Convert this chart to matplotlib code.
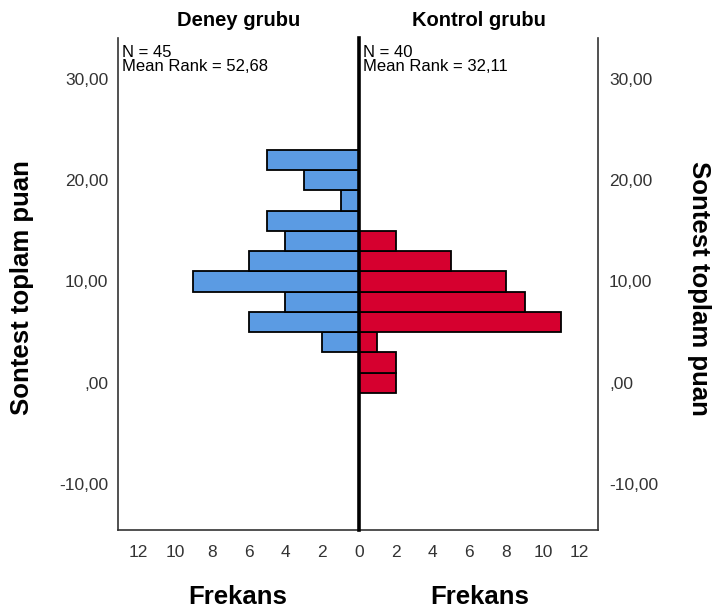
import matplotlib.pyplot as plt
import numpy as np

# histogram bins: centre of each 2-point bin (edges at odd numbers)
bin_centers = [0, 2, 4, 6, 8, 10, 12, 14, 16, 18, 20, 22]
deney_counts = [0, 0, 2, 6, 4, 9, 6, 4, 5, 1, 3, 5]
kontrol_counts = [2, 2, 1, 11, 9, 8, 5, 2, 0, 0, 0, 0]
bin_width = 2

group_titles = ["Deney grubu", "Kontrol grubu"]
group_notes = ["N = 45\nMean Rank = 52,68", "N = 40\nMean Rank = 32,11"]
y_ticks = [-10, 0, 10, 20, 30]
y_tick_labels = ["-10,00", ",00", "10,00", "20,00", "30,00"]
left_x_ticks = [0, 2, 4, 6, 8, 10, 12]
right_x_ticks = [2, 4, 6, 8, 10, 12]
y_label = "Sontest toplam puan"
x_label = "Frekans"

BLUE = "#5b9be3"
RED = "#d6002f"
TICK_COLOUR = "#333333"

plt.rcParams["font.family"] = "Liberation Sans"

W, H = 713, 614
fig = plt.figure(figsize=(W / 100, H / 100), dpi=100)
# panel edges in pixels: x 118 | 359 | 598, y 38 .. 530
left = fig.add_axes([118 / W, 1 - 530 / H, (359 - 118) / W, (530 - 38) / H])
right = fig.add_axes([359 / W, 1 - 530 / H, (598 - 359) / W, (530 - 38) / H])

ylim = (-14.55, 34.05)
px_per_unit = 18.4


def draw_panel(ax, counts, colour, ticks):
    centers = np.array(bin_centers)
    values = np.array(counts)
    keep = values > 0
    ax.barh(centers[keep], values[keep], height=bin_width, color=colour,
            edgecolor="black", linewidth=1.3)
    ax.set_ylim(*ylim)
    ax.set_xticks(ticks)
    ax.set_xticklabels([str(t) for t in ticks], fontsize=12.5, color=TICK_COLOUR)
    ax.tick_params(axis="both", length=0)
    ax.tick_params(axis="x", pad=11)
    ax.spines["top"].set_visible(False)
    for side in ["left", "right", "bottom"]:
        ax.spines[side].set_color("#333333")
        ax.spines[side].set_linewidth(1.2)


draw_panel(left, deney_counts, BLUE, left_x_ticks)
draw_panel(right, kontrol_counts, RED, right_x_ticks)

left.set_xlim((359 - 118) / px_per_unit, 0)
right.set_xlim(0, (598 - 359) / px_per_unit)

# shared centre line, drawn thick on top of the bars
left.spines["right"].set_visible(False)
right.patch.set_visible(False)
right.spines["left"].set_color("black")
right.spines["left"].set_linewidth(2.6)
right.spines["left"].set_zorder(5)

left.set_yticks(y_ticks)
left.set_yticklabels(y_tick_labels, fontsize=12.5, color=TICK_COLOUR)
left.tick_params(axis="y", pad=7)
right.set_yticks(y_ticks)
right.yaxis.tick_right()
right.set_yticklabels(y_tick_labels, fontsize=12.5, color=TICK_COLOUR)
right.tick_params(axis="y", pad=8)

for ax, title, note in zip([left, right], group_titles, group_notes):
    ax.set_title(title, fontsize=14.5, fontweight="bold", pad=9)
    ax.text(4 / (359 - 118), 1 - 7 / 492, note, transform=ax.transAxes,
            ha="left", va="top", fontsize=12, linespacing=0.95)

fig.text(22 / W, 1 - 288 / H, y_label, rotation=90, ha="center", va="center",
         fontsize=18.5, fontweight="bold")
fig.text(699 / W, 1 - 288 / H, y_label, rotation=270, ha="center", va="center",
         fontsize=18.5, fontweight="bold")
fig.text(238 / W, 1 - 597 / H, x_label, ha="center", va="center",
         fontsize=18.5, fontweight="bold")
fig.text(480 / W, 1 - 597 / H, x_label, ha="center", va="center",
         fontsize=18.5, fontweight="bold")

fig.savefig("out.png", dpi=100)
